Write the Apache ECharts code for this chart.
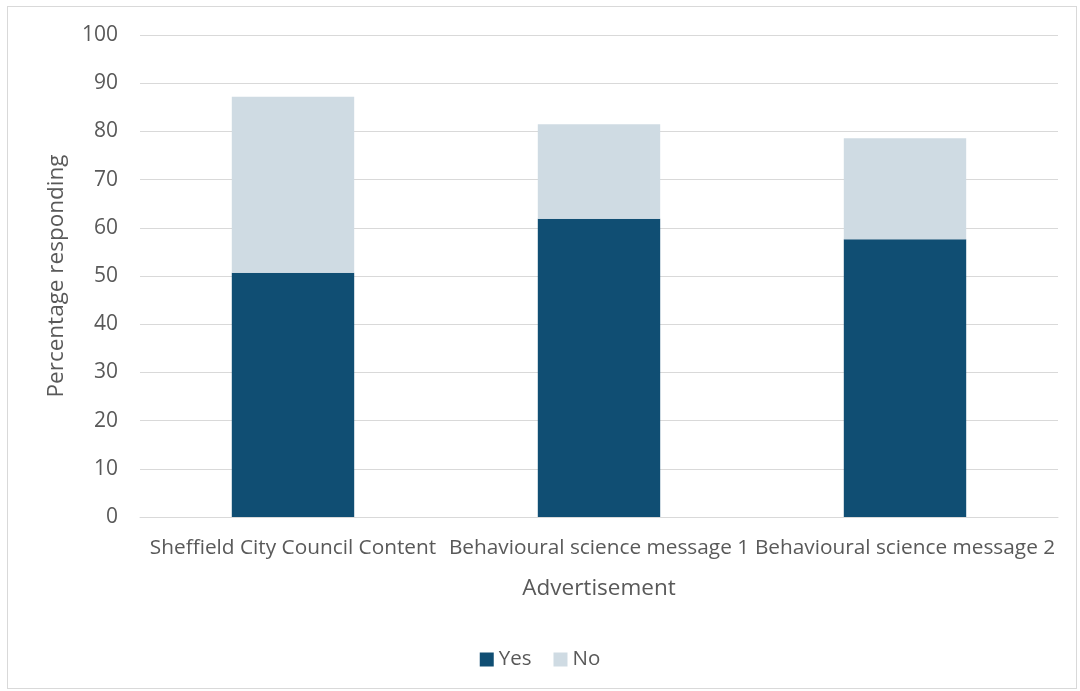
<!DOCTYPE html>
<html>
<head>
<meta charset="utf-8">
<script src="https://cdn.jsdelivr.net/npm/echarts@6/dist/echarts.min.js"></script>
<style>
html,body{margin:0;padding:0;background:#fff;}
#frame{position:absolute;left:7px;top:6px;width:1070px;height:683px;border:1px solid #d9d9d9;box-sizing:border-box;}
#c{position:absolute;left:0;top:0;width:1080px;height:691px;}
</style>
</head>
<body>
<div id="frame"></div>
<div id="c"></div>
<script>
const categories = ["Sheffield City Council Content", "Behavioural science message 1", "Behavioural science message 2"];
const yesValues = [50.7, 61.9, 57.6];
const noValues = [36.5, 19.6, 21.0];
const yTicks = [0, 10, 20, 30, 40, 50, 60, 70, 80, 90, 100];

const FONT = "Open Sans";
const chart = echarts.init(document.getElementById('c'), null, {renderer: 'canvas'});
chart.setOption({
  backgroundColor: 'transparent',
  animation: false,
  textStyle: {fontFamily: FONT},
  grid: {left: 140, right: 22, top: 35, bottom: 174, containLabel: false},
  legend: {
    bottom: 16, left: 'center',
    itemWidth: 14, itemHeight: 14, itemGap: 22,
    icon: 'rect',
    textStyle: {color: '#595959', fontSize: 20.5, fontFamily: FONT},
    data: ['Yes', 'No']
  },
  xAxis: {
    type: 'category',
    data: categories,
    name: 'Advertisement',
    nameLocation: 'middle',
    nameGap: 60,
    nameTextStyle: {color: '#595959', fontSize: 22.5, fontFamily: FONT},
    axisLine: {lineStyle: {color: '#d9d9d9'}},
    axisTick: {show: false},
    axisLabel: {color: '#595959', fontSize: 20.8, interval: 0, margin: 21, fontFamily: FONT},
    splitLine: {show: false}
  },
  yAxis: {
    type: 'value',
    min: yTicks[0], max: yTicks[yTicks.length - 1], interval: 10,
    name: 'Percentage responding',
    nameLocation: 'middle',
    nameGap: 72,
    nameTextStyle: {color: '#595959', fontSize: 22.5, fontFamily: FONT},
    axisLine: {show: false},
    axisTick: {show: false},
    axisLabel: {color: '#595959', fontSize: 21, margin: 22, fontFamily: FONT},
    splitLine: {lineStyle: {color: '#d9d9d9', width: 1}}
  },
  series: [
    {name: 'Yes', type: 'bar', stack: 'a', data: yesValues, barWidth: '40%', itemStyle: {color: '#104e73'}},
    {name: 'No', type: 'bar', stack: 'a', data: noValues, barWidth: '40%', itemStyle: {color: '#cfdbe3'}}
  ]
});
</script>
</body>
</html>
